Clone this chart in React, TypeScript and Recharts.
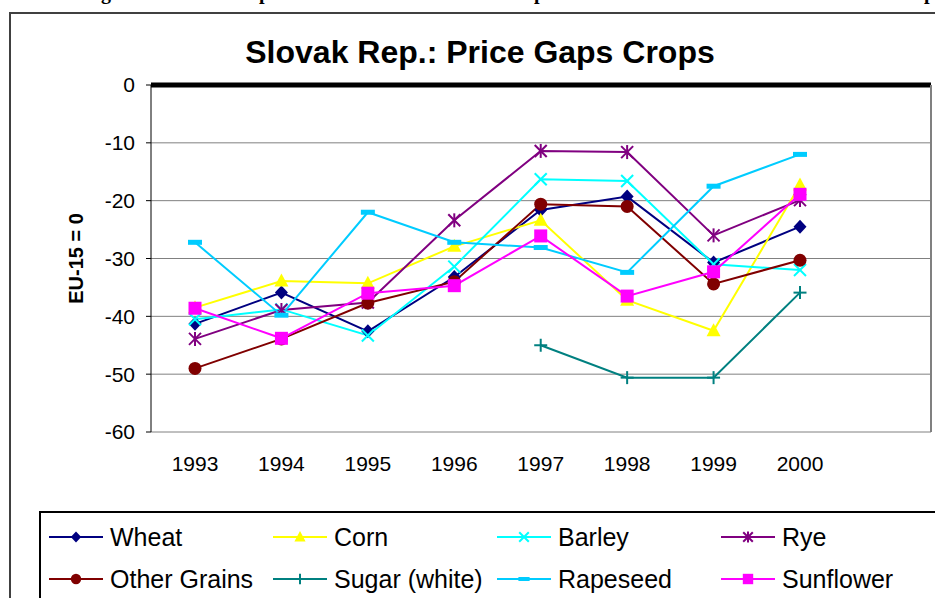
import React from 'react';
import {
  LineChart,
  Line,
  XAxis,
  YAxis,
  CartesianGrid,
  ReferenceLine,
} from 'recharts';

const years = ['1993', '1994', '1995', '1996', '1997', '1998', '1999', '2000'];
const wheat = [-41.3, -35.9, -42.6, -33.2, -21.6, -19.3, -30.7, -24.5];
const corn = [-38.5, -33.9, -34.3, -27.9, -23.4, -37.2, -42.5, -17.3];
const barley = [-40.5, -38.8, -43.3, -31.4, -16.3, -16.6, -31.0, -32.0];
const rye = [-43.9, -38.9, -37.6, -23.4, -11.4, -11.6, -26.0, -19.9];
const otherGrains = [-49.0, -43.9, -37.7, -34.0, -20.6, -21.0, -34.4, -30.3];
const sugar = [null, null, null, null, -45.0, -50.6, -50.6, -35.9];
const rapeseed = [-27.2, -39.8, -22.0, -27.2, -28.1, -32.4, -17.5, -12.0];
const sunflower = [-38.6, -43.8, -36.0, -34.7, -26.1, -36.5, -32.3, -18.9];
const yTicks = [0, -10, -20, -30, -40, -50, -60];

const series = [
  { key: 'wheat', name: 'Wheat', color: '#000080', shape: 'diamond', values: wheat },
  { key: 'corn', name: 'Corn', color: '#FFFF00', shape: 'triangle', values: corn },
  { key: 'barley', name: 'Barley', color: '#00FFFF', shape: 'x', values: barley },
  { key: 'rye', name: 'Rye', color: '#800080', shape: 'star', values: rye },
  { key: 'otherGrains', name: 'Other Grains', color: '#800000', shape: 'circle', values: otherGrains },
  { key: 'sugar', name: 'Sugar (white)', color: '#008080', shape: 'plus', values: sugar },
  { key: 'rapeseed', name: 'Rapeseed', color: '#00CCFF', shape: 'dash', values: rapeseed },
  { key: 'sunflower', name: 'Sunflower', color: '#FF00FF', shape: 'square', values: sunflower },
];

const data = years.map((year, i) => {
  const row: any = { year };
  series.forEach((s) => { row[s.key] = s.values[i]; });
  return row;
});

const FONT = '"Liberation Sans", Arial, sans-serif';

const Marker = ({ shape, color, cx, cy, s = 1 }: any) => {
  switch (shape) {
    case 'diamond':
      return <polygon points={`${cx},${cy - 7 * s} ${cx + 6.5 * s},${cy} ${cx},${cy + 7 * s} ${cx - 6.5 * s},${cy}`} fill={color} />;
    case 'triangle':
      return <polygon points={`${cx},${cy - 7.5 * s} ${cx + 7 * s},${cy + 5.5 * s} ${cx - 7 * s},${cy + 5.5 * s}`} fill={color} />;
    case 'x':
      return (
        <g stroke={color} strokeWidth={2}>
          <line x1={cx - 6 * s} y1={cy - 6 * s} x2={cx + 6 * s} y2={cy + 6 * s} />
          <line x1={cx - 6 * s} y1={cy + 6 * s} x2={cx + 6 * s} y2={cy - 6 * s} />
        </g>
      );
    case 'star':
      return (
        <g stroke={color} strokeWidth={2}>
          <line x1={cx - 6 * s} y1={cy - 6 * s} x2={cx + 6 * s} y2={cy + 6 * s} />
          <line x1={cx - 6 * s} y1={cy + 6 * s} x2={cx + 6 * s} y2={cy - 6 * s} />
          <line x1={cx} y1={cy - 7 * s} x2={cx} y2={cy + 7 * s} />
        </g>
      );
    case 'circle':
      return <circle cx={cx} cy={cy} r={6.5 * s} fill={color} />;
    case 'plus':
      return (
        <g stroke={color} strokeWidth={2}>
          <line x1={cx - 6.5 * s} y1={cy} x2={cx + 6.5 * s} y2={cy} />
          <line x1={cx} y1={cy - 6.5 * s} x2={cx} y2={cy + 6.5 * s} />
        </g>
      );
    case 'dash':
      return <rect x={cx - 7 * s} y={cy - 2.5 * s} width={14 * s} height={5 * s} fill={color} />;
    case 'square':
      return <rect x={cx - 6.5 * s} y={cy - 6.5 * s} width={13 * s} height={13 * s} fill={color} />;
    default:
      return null;
  }
};

const makeDot = (s: any) => (props: any) => {
  const { cx, cy, index, value } = props;
  if (value == null || cx == null || cy == null) return <g key={`${s.key}-${index}`} />;
  return (
    <g key={`${s.key}-${index}`}>
      <Marker shape={s.shape} color={s.color} cx={cx} cy={cy} />
    </g>
  );
};

const LegendBox = () => (
  <div
    style={{
      position: 'absolute',
      left: 39,
      top: 511,
      width: 1000,
      height: 200,
      border: '2px solid #000',
      background: '#fff',
    }}
  >
    {series.map((s, i) => {
      const col = i % 4;
      const row = Math.floor(i / 4);
      return (
        <div
          key={s.key}
          style={{
            position: 'absolute',
            left: 8 + col * 224,
            top: 4 + row * 42,
            height: 40,
            display: 'flex',
            alignItems: 'center',
          }}
        >
          <svg width={56} height={20} style={{ display: 'block' }}>
            <line x1={0} y1={10} x2={54} y2={10} stroke={s.color} strokeWidth={2} />
            <Marker shape={s.shape} color={s.color} cx={27} cy={10} s={0.8} />
          </svg>
          <span style={{ marginLeft: 5, fontFamily: FONT, fontSize: 25, color: '#000', whiteSpace: 'nowrap' }}>
            {s.name}
          </span>
        </div>
      );
    })}
  </div>
);

export default function App() {
  return (
    <div style={{ position: 'absolute', left: 0, top: 0, width: 935, height: 598, overflow: 'hidden', background: '#fff' }}>
      <div style={{ position: 'absolute', top: -18, left: 0, width: 935, height: 20, fontFamily: '"Liberation Serif", "Times New Roman", serif', fontWeight: 'bold', fontSize: 20, lineHeight: '20px' }}>
        <span style={{ position: 'absolute', left: 101 }}>g</span>
        <span style={{ position: 'absolute', left: 259 }}>p</span>
        <span style={{ position: 'absolute', left: 534 }}>p</span>
        <span style={{ position: 'absolute', left: 924 }}>p</span>
      </div>
      <div style={{ position: 'absolute', left: 9, top: 12, width: 1000, height: 700, border: '2px solid #404040' }} />
      <div
        style={{
          position: 'absolute',
          left: 0,
          top: 36,
          width: 960,
          textAlign: 'center',
          fontFamily: FONT,
          fontWeight: 'bold',
          fontSize: 32,
          lineHeight: '32px',
          color: '#000',
        }}
      >
        Slovak Rep.: Price Gaps Crops
      </div>
      <div style={{ position: 'absolute', left: 0, top: 0 }}>
        <LineChart width={935} height={598} data={data} margin={{ top: 85, right: 3, bottom: 106, left: 0 }}>
          <CartesianGrid vertical={false} stroke="#808080" strokeWidth={1} />
          <XAxis
            dataKey="year"
            padding={{ left: 44, right: 131 }}
            axisLine={false}
            tickLine={false}
            tickSize={6}
            tickMargin={18}
            height={60}
            interval={0}
            tick={{ fontSize: 21, fill: '#000', fontFamily: FONT }}
          />
          <YAxis
            type="number"
            domain={[-60, 0]}
            ticks={yTicks}
            width={151}
            axisLine={{ stroke: '#000', strokeWidth: 1 }}
            tickLine={{ stroke: '#000' }}
            tickSize={5}
            tickMargin={11}
            tick={{ fontSize: 21, fill: '#000', fontFamily: FONT }}
            label={{
              value: 'EU-15 = 0',
              angle: -90,
              position: 'center',
              style: { fontSize: 20, fontWeight: 'bold', fill: '#000', fontFamily: FONT },
            }}
          />
          <YAxis
            yAxisId="right"
            orientation="right"
            type="number"
            domain={[-60, 0]}
            width={1}
            tick={false}
            tickLine={false}
            axisLine={{ stroke: '#808080', strokeWidth: 2 }}
          />
          <ReferenceLine y={0} stroke="#000" strokeWidth={5} />
          {series.map((s) => (
            <Line
              key={s.key}
              type="linear"
              dataKey={s.key}
              name={s.name}
              stroke={s.color}
              strokeWidth={2}
              dot={makeDot(s)}
              activeDot={false}
              connectNulls={false}
              isAnimationActive={false}
            />
          ))}
        </LineChart>
      </div>
      <LegendBox />
    </div>
  );
}
